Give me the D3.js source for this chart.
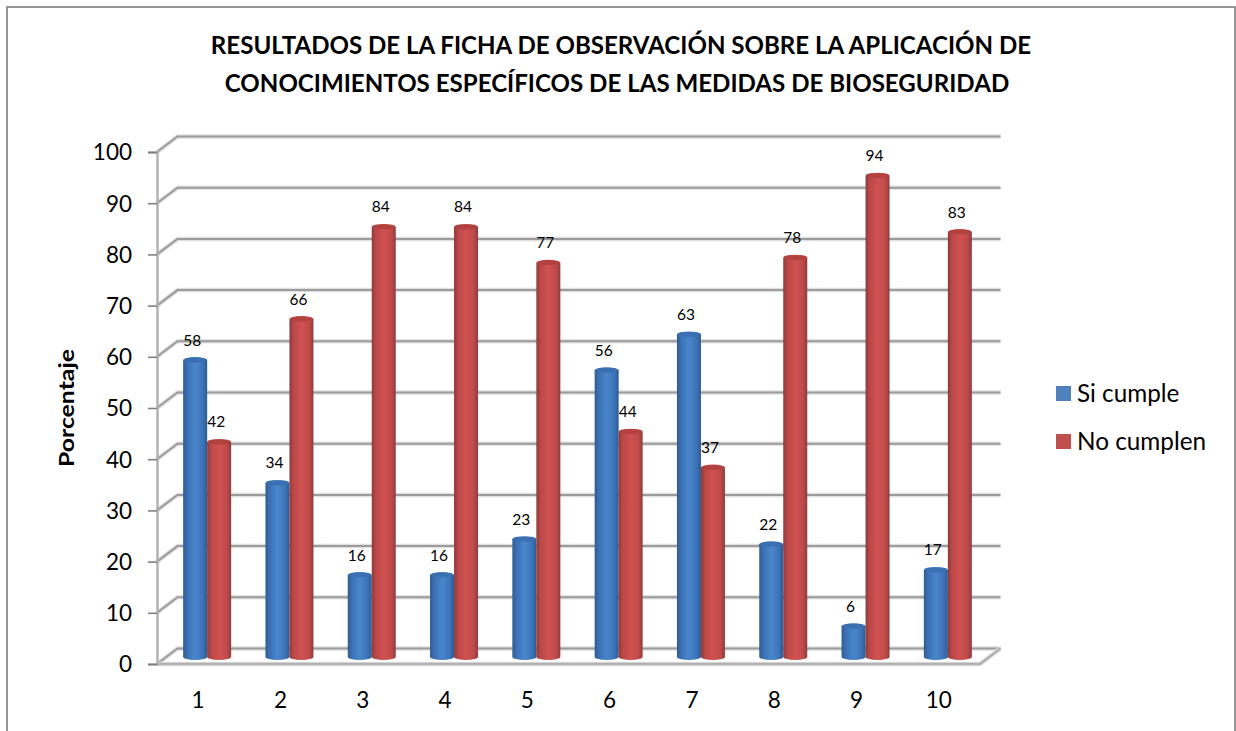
<!DOCTYPE html>
<html>
<head>
<meta charset="utf-8">
<script src="https://cdn.jsdelivr.net/npm/d3@7/dist/d3.min.js"></script>
<style>
html,body{margin:0;padding:0;background:#fff}
svg{display:block}
text{font-family:Lato,"Open Sans",sans-serif;fill:#000}
</style>
</head>
<body>
<svg id="chart" width="1236" height="731"></svg>
<script>
const categories = ["1","2","3","4","5","6","7","8","9","10"];
const siCumple = [58,34,16,16,23,56,63,22,6,17];
const noCumplen = [42,66,84,84,77,44,37,78,94,83];
const seriesNames = ["Si cumple","No cumplen"];
const yTicks = [0,10,20,30,40,50,60,70,80,90,100];
const titleLines = [
  "RESULTADOS DE LA FICHA DE OBSERVACIÓN SOBRE LA APLICACIÓN DE",
  "CONOCIMIENTOS ESPECÍFICOS DE LAS MEDIDAS DE BIOSEGURIDAD"
];
const yTitle = "Porcentaje";

const svg = d3.select("#chart");
const x = d3.scaleBand().domain(categories).range([157,980]);
const y = d3.scaleLinear().domain([0,100]).range([664,152]);
const depth = {dx:20.5, dy:-15.5};
const barShift = {dx:9, dy:-7};
const barW = 24, capRy = 3;

// Frame around the chart area; its lower edge falls outside the page
svg.append("rect").attr("x",7).attr("y",7).attr("width",1228).attr("height",740)
  .attr("fill","#fff").attr("stroke","#8a8a8a").attr("stroke-width",1.8);

// Cylinder shading
const defs = svg.append("defs");
const ramps = [
  {id:"cylBlue", stops:[[0,"#2f5a8f"],[16,"#3a70b2"],[50,"#4a86cc"],[82,"#3c74b8"],[100,"#2c5a92"]], cap:"#3a6fb2", flat:"#4f81bd"},
  {id:"cylRed", stops:[[0,"#8a3a3a"],[16,"#bb4648"],[50,"#cf5250"],[82,"#c04a4a"],[100,"#8e3c3c"]], cap:"#b24240", flat:"#c0504d"}
];
ramps.forEach(r=>{
  const g = defs.append("linearGradient").attr("id",r.id);
  r.stops.forEach(s=>g.append("stop").attr("offset",s[0]+"%").attr("stop-color",s[1]));
});

// Walls and floor: gridlines run along the back, with a slanted return to the axis
const grid = svg.append("g").attr("fill","none");
const wallPath = v => d3.line()([[x.range()[0],y(v)],[x.range()[0]+depth.dx,y(v)+depth.dy],[x.range()[1]+depth.dx,y(v)+depth.dy]]);
grid.selectAll("path.halo").data(yTicks).join("path").attr("class","halo")
  .attr("d",wallPath).attr("stroke","#e0e0e0").attr("stroke-width",4.5);
grid.selectAll("path.line").data(yTicks).join("path").attr("class","line")
  .attr("d",wallPath).attr("stroke","#9c9c9c").attr("stroke-width",2);
const floorEdge = d3.line()([[x.range()[0],y(0)],[x.range()[1],y(0)],[x.range()[1]+depth.dx,y(0)+depth.dy]]);
grid.append("path").attr("d",floorEdge).attr("stroke","#e2e2e2").attr("stroke-width",4.5);
grid.append("path").attr("d",floorEdge).attr("stroke","#b0b0b0").attr("stroke-width",2.4);

// Vertical value axis with tick labels
const axis = svg.append("g").attr("transform",`translate(${x.range()[0]},0)`)
  .call(d3.axisLeft(y).tickValues(yTicks).tickSize(9).tickPadding(16));
axis.select(".domain").attr("stroke","#b0b0b0").attr("stroke-width",2.4);
axis.selectAll(".tick line").attr("stroke","#808080").attr("stroke-width",1.6);
axis.selectAll(".tick text").attr("font-size",22.5).attr("dy","0.35em")
  .style("font-family","Lato,sans-serif").attr("fill","#000");

// Category labels
svg.append("g").selectAll("text").data(categories).join("text")
  .attr("x",d=>x(d)+x.bandwidth()/2).attr("y",708)
  .attr("text-anchor","middle").attr("font-size",22.5).text(d=>d);

// One cylinder per value: blue first so the red one overlaps it
function cylinder(group, values, offset, ramp){
  const cx = d => x(d)+x.bandwidth()/2+barShift.dx+offset;
  const base = y(0)+barShift.dy;
  const g = group.append("g");
  g.selectAll("path").data(categories).join("path")
    .attr("d",(d,i)=>{
      const top = y(values[i])+barShift.dy, l = cx(d)-barW/2, r = l+barW;
      return `M${l},${top}A${barW/2},${capRy} 0 0 1 ${r},${top}L${r},${base}A${barW/2},${capRy} 0 0 1 ${l},${base}Z`;
    })
    .attr("fill",`url(#${ramp.id})`);
  g.selectAll("ellipse").data(categories).join("ellipse")
    .attr("cx",cx)
    .attr("cy",(d,i)=>y(values[i])+barShift.dy)
    .attr("rx",barW/2-0.5).attr("ry",capRy-0.5)
    .attr("fill",ramp.cap);
}
const bars = svg.append("g");
cylinder(bars, siCumple, -12, ramps[0]);
cylinder(bars, noCumplen, 12, ramps[1]);

// Value labels above each cylinder
function valueLabels(values, offset){
  svg.append("g").selectAll("text").data(categories).join("text")
    .attr("x",d=>x(d)+x.bandwidth()/2+barShift.dx+offset-3)
    .attr("y",(d,i)=>y(values[i])+barShift.dy-14.5)
    .attr("text-anchor","middle").attr("font-size",15.5)
    .text((d,i)=>values[i]);
}
valueLabels(siCumple,-12);
valueLabels(noCumplen,12);

// Title: the second line sits slightly left of the first
svg.append("g").selectAll("text").data(titleLines).join("text")
  .attr("x",(d,i)=>621-i*4).attr("y",(d,i)=>54+i*38)
  .attr("text-anchor","middle").attr("font-size",24.1).attr("font-weight",700)
  .text(d=>d);

// Value axis title
svg.append("text").attr("transform","translate(74,408) rotate(-90)")
  .attr("text-anchor","middle").attr("font-size",20.5).attr("font-weight",700)
  .attr("textLength",118).attr("lengthAdjust","spacingAndGlyphs").text(yTitle);

// Legend
const legend = svg.append("g").selectAll("g").data(seriesNames).join("g")
  .attr("transform",(d,i)=>`translate(1056,${386+i*48})`);
legend.append("rect").attr("width",15).attr("height",15).attr("fill",(d,i)=>ramps[i].flat);
legend.append("text").attr("x",21).attr("y",15.5).attr("font-size",24.3).text(d=>d);
</script>
</body>
</html>
